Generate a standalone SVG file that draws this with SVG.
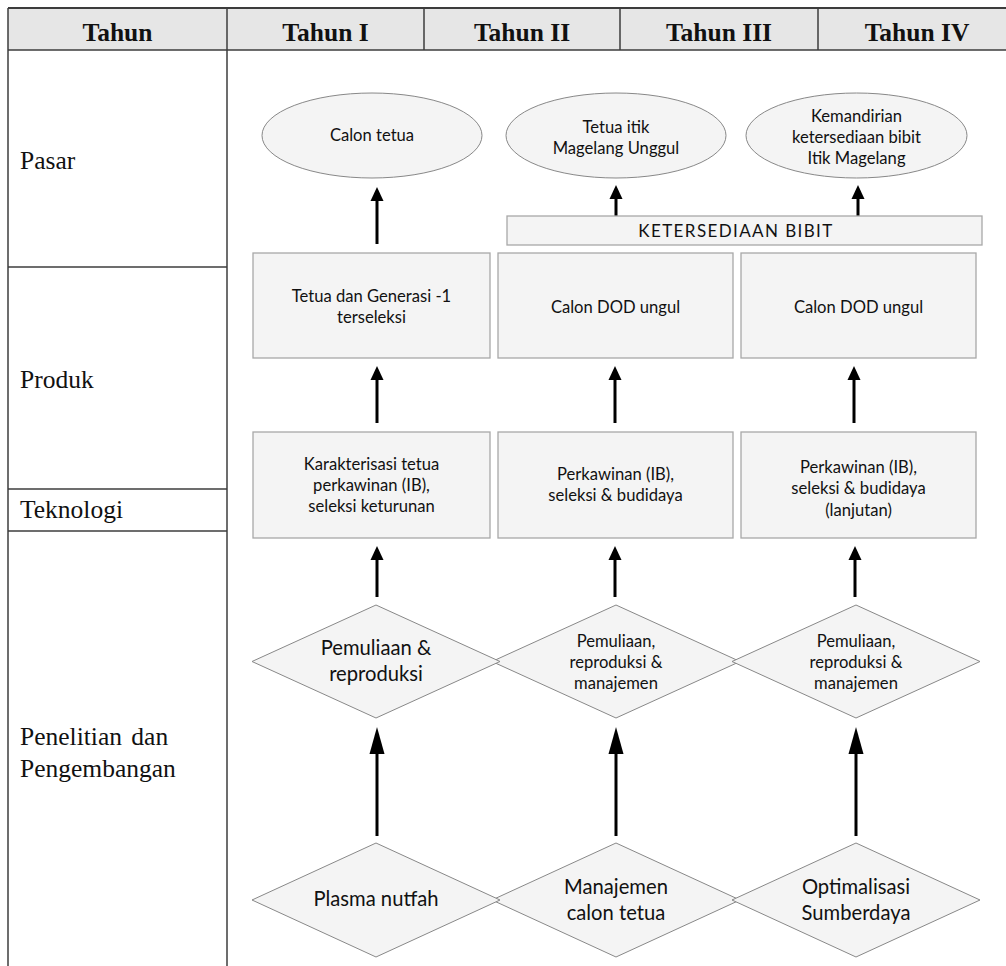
<svg xmlns="http://www.w3.org/2000/svg" width="1006" height="966" viewBox="0 0 1006 966">
<style>
.grid{stroke:#3c3c3c;stroke-width:1.5;fill:none}
.hdr{font-family:"Liberation Serif",serif;font-weight:bold;font-size:25.5px;fill:#111;text-anchor:middle}
.row{font-family:"Liberation Serif",serif;font-size:25.5px;fill:#111}
.box{fill:#f4f4f4;stroke:#a8a8a8;stroke-width:1.3}
.shp{fill:#f4f4f4;stroke:#888;stroke-width:1}
.t{font-family:Lato,"Open Sans",sans-serif;font-size:16.6px;fill:#111;text-anchor:middle}
.tl{font-family:Lato,"Open Sans",sans-serif;font-size:20.2px;fill:#111;text-anchor:middle}
.a{stroke:#000;stroke-width:3;fill:none}
.as{marker-end:url(#ms)}
.al{marker-end:url(#ml)}
</style>
<defs>
<marker id="ms" markerUnits="userSpaceOnUse" markerWidth="15" markerHeight="14" refX="0" refY="6.5" orient="auto" overflow="visible"><path d="M0,0 L14,6.5 L0,13 z" fill="#000"/></marker>
<marker id="ml" markerUnits="userSpaceOnUse" markerWidth="28" markerHeight="16" refX="0" refY="7.5" orient="auto" overflow="visible"><path d="M0,0 L27,7.5 L0,15 z" fill="#000"/></marker>
</defs>
<rect width="1006" height="966" fill="#fff"/>
<g id="table">
<rect x="8" y="8" width="1010" height="42" fill="#e6e6e6"/>
<line class="grid" x1="8" y1="8" x2="1006" y2="8" style="stroke-width:2"/>
<line class="grid" x1="8" y1="50" x2="1006" y2="50"/>
<line class="grid" x1="8" y1="8" x2="8" y2="966"/>
<line class="grid" x1="227" y1="8" x2="227" y2="966"/>
<line class="grid" x1="424" y1="8" x2="424" y2="50"/>
<line class="grid" x1="620" y1="8" x2="620" y2="50"/>
<line class="grid" x1="818" y1="8" x2="818" y2="50"/>
<line class="grid" x1="8" y1="267" x2="227" y2="267"/>
<line class="grid" x1="8" y1="489" x2="227" y2="489"/>
<line class="grid" x1="8" y1="531" x2="227" y2="531"/>
<text class="hdr" x="117.5" y="41">Tahun</text>
<text class="hdr" x="325.5" y="41">Tahun I</text>
<text class="hdr" x="522" y="41">Tahun II</text>
<text class="hdr" x="719" y="41">Tahun III</text>
<text class="hdr" x="917" y="41">Tahun IV</text>
<text class="row" x="20" y="169">Pasar</text>
<text class="row" x="20" y="388">Produk</text>
<text class="row" x="20" y="518">Teknologi</text>
<text class="row" x="20" y="745" style="word-spacing:3px">Penelitian dan</text>
<text class="row" x="20" y="777">Pengembangan</text>
</g>
<g id="connectors">
<line class="a as" x1="377" y1="244" x2="377" y2="201"/>
<line class="a as" x1="616" y1="216" x2="616" y2="199"/>
<line class="a as" x1="858" y1="216" x2="858" y2="199"/>
<line class="a as" x1="377" y1="423" x2="377" y2="380"/>
<line class="a as" x1="615" y1="423" x2="615" y2="380"/>
<line class="a as" x1="854" y1="423" x2="854" y2="380"/>
<line class="a as" x1="377" y1="597" x2="377" y2="560"/>
<line class="a as" x1="615" y1="597" x2="615" y2="560"/>
<line class="a as" x1="855" y1="597" x2="855" y2="560"/>
<line class="a al" x1="377" y1="836" x2="377" y2="754"/>
<line class="a al" x1="616" y1="836" x2="616" y2="754"/>
<line class="a al" x1="856" y1="836" x2="856" y2="754"/>
</g>
<g id="pasar1"><ellipse class="shp" cx="372" cy="135.5" rx="110" ry="42.5"/><text class="t" x="372" y="141">Calon tetua</text></g>
<g id="pasar2"><ellipse class="shp" cx="616" cy="135.5" rx="110" ry="42.5"/><text class="t" x="616" y="133">Tetua itik</text><text class="t" x="616" y="154">Magelang Unggul</text></g>
<g id="pasar3"><ellipse class="shp" cx="856.5" cy="135.5" rx="110.5" ry="42.5"/><text class="t" x="856.5" y="122">Kemandirian</text><text class="t" x="856.5" y="143">ketersediaan bibit</text><text class="t" x="856.5" y="164">Itik Magelang</text></g>
<g id="bibit"><rect class="box" x="507" y="216" width="475" height="29"/><text class="t" x="736" y="237" style="font-size:17px;letter-spacing:1.4px">KETERSEDIAAN BIBIT</text></g>
<g id="produk1"><rect class="box" x="253" y="253" width="237" height="105"/><text class="t" x="371.5" y="302">Tetua dan Generasi -1</text><text class="t" x="371.5" y="323">terseleksi</text></g>
<g id="produk2"><rect class="box" x="498" y="253" width="235" height="105"/><text class="t" x="615.5" y="313">Calon DOD ungul</text></g>
<g id="produk3"><rect class="box" x="741" y="253" width="235" height="105"/><text class="t" x="858.5" y="313">Calon DOD ungul</text></g>
<g id="tek1"><rect class="box" x="253" y="432" width="237" height="106"/><text class="t" x="371.5" y="470">Karakterisasi tetua</text><text class="t" x="371.5" y="491">perkawinan (IB),</text><text class="t" x="371.5" y="512">seleksi keturunan</text></g>
<g id="tek2"><rect class="box" x="498" y="432" width="235" height="106"/><text class="t" x="615.5" y="480">Perkawinan (IB),</text><text class="t" x="615.5" y="501">seleksi &amp; budidaya</text></g>
<g id="tek3"><rect class="box" x="741" y="432" width="235" height="106"/><text class="t" x="858.5" y="473">Perkawinan (IB),</text><text class="t" x="858.5" y="494">seleksi &amp; budidaya</text><text class="t" x="858.5" y="516">(lanjutan)</text></g>
<g id="litbang2"><polygon class="shp" points="616,605 740,661.5 616,718 492,661.5"/><text class="t" x="616" y="647">Pemuliaan,</text><text class="t" x="616" y="668">reproduksi &amp;</text><text class="t" x="616" y="689">manajemen</text></g>
<g id="litbang1"><polygon class="shp" points="376,605 500,661.5 376,718 252,661.5"/><text class="tl" x="376" y="655">Pemuliaan &amp;</text><text class="tl" x="376" y="681">reproduksi</text></g>
<g id="litbang3"><polygon class="shp" points="856,605 980,661.5 856,718 732,661.5"/><text class="t" x="856" y="647">Pemuliaan,</text><text class="t" x="856" y="668">reproduksi &amp;</text><text class="t" x="856" y="689">manajemen</text></g>
<g id="sumber2"><polygon class="shp" points="616,843 740,900 616,957 492,900"/><text class="tl" x="616" y="894">Manajemen</text><text class="tl" x="616" y="920">calon tetua</text></g>
<g id="sumber1"><polygon class="shp" points="376,843 500,900 376,957 252,900"/><text class="tl" x="376" y="906">Plasma nutfah</text></g>
<g id="sumber3"><polygon class="shp" points="856,843 980,900 856,957 732,900"/><text class="tl" x="856" y="894">Optimalisasi</text><text class="tl" x="856" y="920">Sumberdaya</text></g>
</svg>
